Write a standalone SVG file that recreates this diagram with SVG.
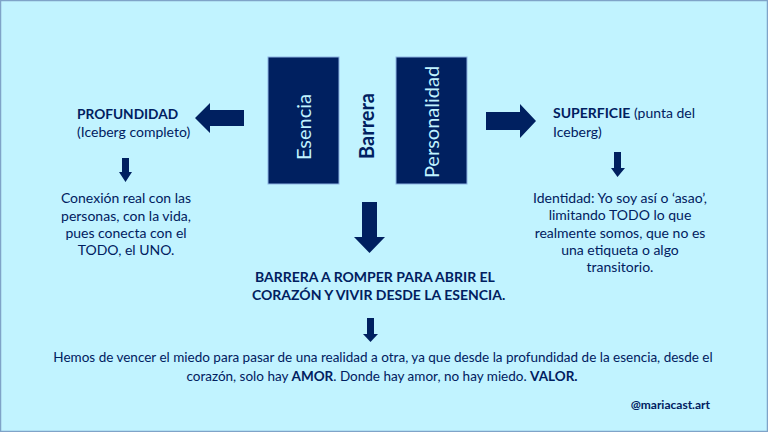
<svg xmlns="http://www.w3.org/2000/svg" width="768" height="432" viewBox="0 0 768 432">
<style>
text{font-family:Lato,"Liberation Sans",sans-serif;fill:#002060}
.b{font-weight:bold}
.box{fill:#002060;stroke:#8DB3E2;stroke-width:1}
.inbox{fill:#C1F3FF;font-size:20px}
.arr{fill:#002060}
.body{font-size:14px}
</style>
<rect x="0.5" y="0.5" width="767" height="431" fill="#C1F3FF" stroke="#7FA3C8" stroke-width="1.5"/>
<g id="esencia">
<rect class="box" x="268" y="57" width="71" height="127"/>
<text class="inbox" transform="translate(311,127) rotate(-90)" text-anchor="middle">Esencia</text>
</g>
<g id="barrera">
<text class="b" style="font-size:20px" transform="translate(374,126) rotate(-90)" text-anchor="middle">Barrera</text>
</g>
<g id="personalidad">
<rect class="box" x="396" y="57" width="71" height="127"/>
<text class="inbox" transform="translate(439,122) rotate(-90)" text-anchor="middle">Personalidad</text>
</g>
<g id="profundidad">
<text class="b" style="font-size:13.7px" x="77" y="119">PROFUNDIDAD</text>
<text class="body" x="77" y="137">(Iceberg completo)</text>
</g>
<g id="conexion">
<text class="body" text-anchor="middle" x="126" y="203">Conexión real con las</text>
<text class="body" text-anchor="middle" x="126" y="221">personas, con la vida,</text>
<text class="body" text-anchor="middle" x="126" y="238">pues conecta con el</text>
<text class="body" text-anchor="middle" x="126" y="255">TODO, el UNO.</text>
</g>
<g id="superficie">
<text class="body" x="553" y="118"><tspan class="b">SUPERFICIE</tspan> (punta del</text>
<text class="body" x="553" y="137">Iceberg)</text>
</g>
<g id="identidad">
<text class="body" text-anchor="middle" x="620" y="203">Identidad: Yo soy así o ‘asao’,</text>
<text class="body" text-anchor="middle" x="620" y="220">limitando TODO lo que</text>
<text class="body" text-anchor="middle" x="620" y="238">realmente somos, que no es</text>
<text class="body" text-anchor="middle" x="620" y="255">una etiqueta o algo</text>
<text class="body" text-anchor="middle" x="620" y="272">transitorio.</text>
</g>
<g id="romper">
<text class="b" style="font-size:14px" x="255" y="282">BARRERA A ROMPER PARA ABRIR EL</text>
<text class="b" style="font-size:14px" x="252" y="300">CORAZÓN Y VIVIR DESDE LA ESENCIA.</text>
</g>
<g id="conclusion">
<text style="font-size:13.5px" text-anchor="middle" x="383" y="362">Hemos de vencer el miedo para pasar de una realidad a otra, ya que desde la profundidad de la esencia, desde el</text>
<text style="font-size:13.5px" text-anchor="middle" x="382" y="381">corazón, solo hay <tspan class="b">AMOR</tspan>. Donde hay amor, no hay miedo. <tspan class="b">VALOR.</tspan></text>
</g>
<g id="firma">
<text class="b" style="font-size:12px" text-anchor="end" x="710" y="409">@mariacast.art</text>
</g>
<g id="connectors">
<polygon class="arr" points="244,110 210,110 210,103 195,118 210,133 210,126 244,126"/>
<polygon class="arr" points="486,112 520,112 520,104 536,121 520,138 520,130 486,130"/>
<polygon class="arr" points="122,158 129,158 129,172 132,172 125.5,182 119,172 122,172"/>
<polygon class="arr" points="614,152 621,152 621,168 625,168 617.5,177 611,168 614,168"/>
<polygon class="arr" points="362,202 377,202 377,237 385,237 369.5,253 354,237 362,237"/>
<polygon class="arr" points="367,318 374,318 374,334 378,334 370.5,342 363,334 367,334"/>
</g>
</svg>
